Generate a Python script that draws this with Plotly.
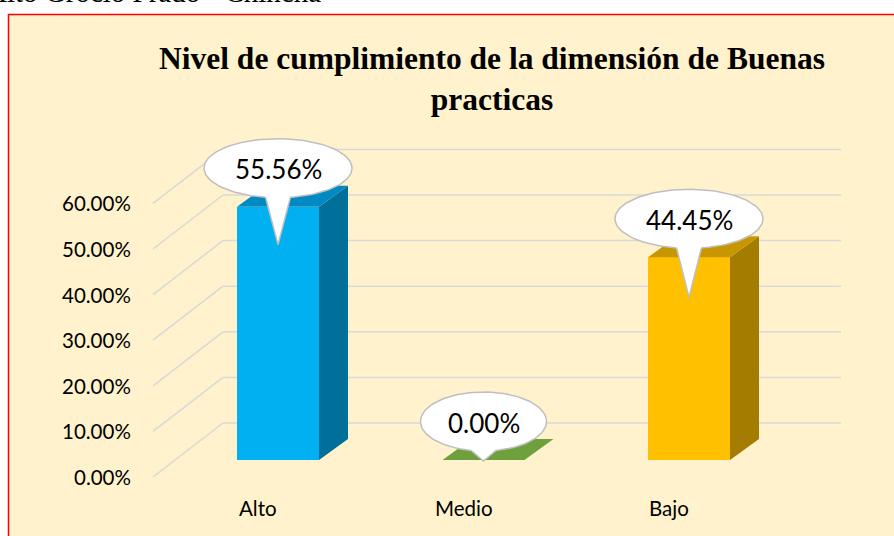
import numpy as np
import plotly.graph_objects as go

# ---------------- data ----------------
categories = ["Alto", "Medio", "Bajo"]
values = [0.5556, 0.0, 0.4445]
tick_values = [0.0, 0.1, 0.2, 0.3, 0.4, 0.5, 0.6]
title_text = "<b>Nivel de cumplimiento de la dimensión de Buenas<br>practicas</b>"
header_text = "Alto Grocio Prado - Chincha"

# ---------------- styles ----------------
front_colors = ["#00B0F0", "#70AD47", "#FFC000"]
top_colors = ["#0189C4", "#6FA03E", "#C89700"]
side_colors = ["#00709A", "#507D2D", "#A47C00"]
tip_offsets = [38, 1, 40]          # px of bubble pointer below data point

W, H = 894, 536
X0, PPC = 278.0, 205.5             # px of first category centre, px per category
Y0, PPU = 460.0, 456.0             # px of value 0 at bar front, px per 1.0
BAR_W = 82.0
DDX, DDY = 29.0, 21.0              # bar depth (px)
FRONT_DY, BACK_DY = 17.0, 37.0     # side wall front / back offsets (px)
WALL_XF, WALL_XB, WALL_XE = 153.0, 223.0, 841.0
GRID_COLOR = "#D9D9D9"
BG = "#FFF2CC"
SANS = "Lato"


def xd(px):
    return (px - X0) / PPC


def yd(py):
    return (Y0 - py) / PPU


fig = go.Figure()
shapes = []
# chart area with red border
shapes.append(dict(type="rect", xref="paper", yref="paper",
                   x0=8.5 / W, x1=1.02, y0=-0.02, y1=1 - 14.5 / H,
                   fillcolor=BG, line=dict(color="#FF0000", width=1.5), layer="below"))

# gridlines (side wall diagonals + back wall)
for v in tick_values:
    yf = v - FRONT_DY / PPU
    yb = v + BACK_DY / PPU
    shapes.append(dict(type="line", xref="x", yref="y", x0=xd(WALL_XF), y0=yf,
                       x1=xd(WALL_XB), y1=yb, line=dict(color=GRID_COLOR, width=1.5), layer="below"))
    shapes.append(dict(type="line", xref="x", yref="y", x0=xd(WALL_XB), y0=yb,
                       x1=xd(WALL_XE), y1=yb, line=dict(color=GRID_COLOR, width=1.5), layer="below"))

xs = list(range(len(categories)))
bw = BAR_W / PPC
ddx, ddy = DDX / PPC, DDY / PPU

# front faces
fig.add_trace(go.Bar(x=xs, y=values, width=bw, marker=dict(color=front_colors, line=dict(width=0)),
                     hoverinfo="skip", showlegend=False))

# side and top faces
for i, v in enumerate(values):
    xl, xr = xs[i] - bw / 2, xs[i] + bw / 2
    if v > 0:
        fig.add_trace(go.Scatter(x=[xr, xr, xr + ddx, xr + ddx, xr], y=[0, v, v + ddy, ddy, 0],
                                 fill="toself", fillcolor=side_colors[i], mode="lines",
                                 line=dict(width=0, color=side_colors[i]), hoverinfo="skip", showlegend=False))
    fig.add_trace(go.Scatter(x=[xl, xr, xr + ddx, xl + ddx, xl], y=[v, v, v + ddy, v + ddy, v],
                             fill="toself", fillcolor=top_colors[i], mode="lines",
                             line=dict(width=0, color=top_colors[i]), hoverinfo="skip", showlegend=False))

annotations = []
# callout bubbles
for i, v in enumerate(values):
    label = f"{v:.2%}"
    cx = X0 + PPC * xs[i]
    vy = Y0 - PPU * v
    cy = vy - 38.5
    rx, ry = 11.0 * len(label) + 8.0, 29.5
    b = 12.5
    d = np.arcsin(b / rx)
    t = np.linspace(np.pi / 2 + d, 5 * np.pi / 2 - d, 120)
    px = list(cx + rx * np.cos(t)) + [cx, cx + rx * np.cos(np.pi / 2 + d)]
    py = list(cy + ry * np.sin(t)) + [vy + tip_offsets[i], cy + ry * np.sin(np.pi / 2 + d)]
    fig.add_trace(go.Scatter(x=[xd(p) for p in px], y=[yd(p) for p in py], fill="toself",
                             fillcolor="#FFFFFF", mode="lines",
                             line=dict(color="#BFBFBF", width=1.5), hoverinfo="skip", showlegend=False))
    annotations.append(dict(x=xd(cx), y=yd(cy + 1), xref="x", yref="y", text=label, showarrow=False,
                            xanchor="center", yanchor="middle",
                            font=dict(family=SANS, size=26, color="#000000")))

# y tick labels (front of side wall)
for v in tick_values:
    annotations.append(dict(x=xd(133), y=v - FRONT_DY / PPU, xref="x", yref="y", text=f"{v:.2%}",
                            showarrow=False, xanchor="right", yanchor="middle",
                            font=dict(family=SANS, size=20.5, color="#000000")))

# category labels
for i, c in enumerate(categories):
    annotations.append(dict(x=xs[i] - 20 / PPC, y=yd(508), xref="x", yref="y", text=c,
                            showarrow=False, xanchor="center", yanchor="middle",
                            font=dict(family=SANS, size=20.5, color="#000000")))

# title
annotations.append(dict(x=xd(492), y=yd(79), xref="x", yref="y", text=title_text, showarrow=False,
                        xanchor="center", yanchor="middle", align="center",
                        font=dict(family="Liberation Serif", size=31.5, color="#000000")))
# cut-off page header text
annotations.append(dict(x=323 / W, y=1 - 10 / H, xref="paper", yref="paper", text=header_text,
                        showarrow=False, xanchor="right", yanchor="bottom",
                        font=dict(family="Liberation Serif", size=29, color="#000000")))

fig.update_layout(
    width=W, height=H, margin=dict(l=0, r=0, t=0, b=0, pad=0),
    paper_bgcolor="#FFFFFF", plot_bgcolor="rgba(0,0,0,0)",
    xaxis=dict(range=[xd(0), xd(W)], visible=False, fixedrange=True),
    yaxis=dict(range=[yd(H), yd(0)], visible=False, fixedrange=True),
    shapes=shapes, annotations=annotations, showlegend=False, bargap=0,
)

fig.write_html("out.html", config={"displayModeBar": False},
               post_script="document.body.style.margin='0';document.body.style.overflow='hidden';")
